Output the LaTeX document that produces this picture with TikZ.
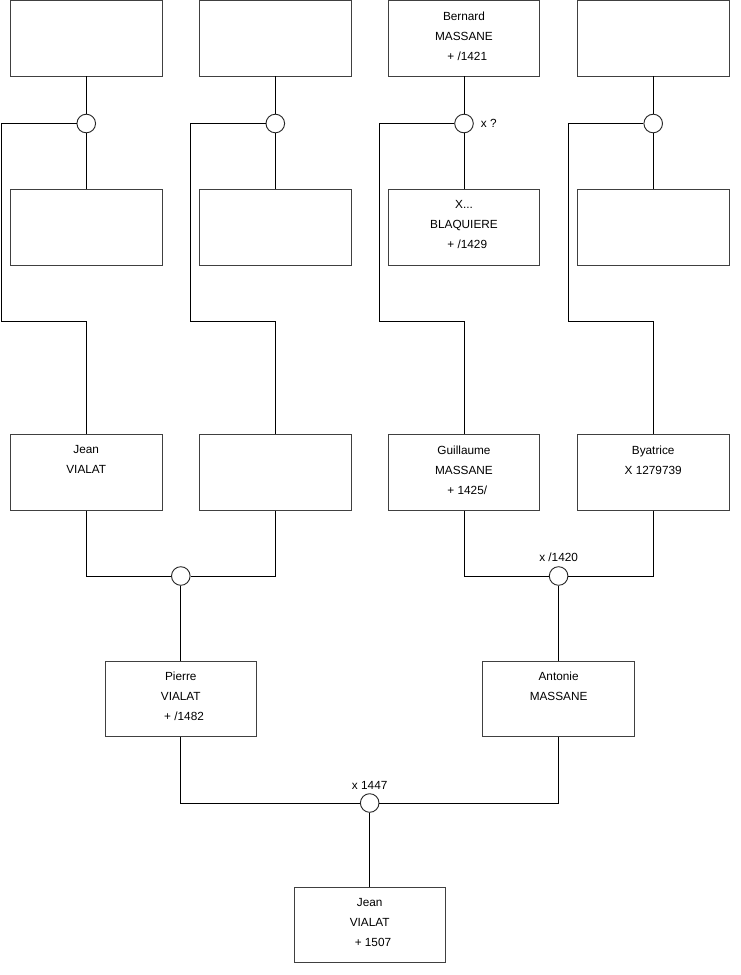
\documentclass[tikz,border=0pt]{standalone}
\usepackage{fontspec}
\setmainfont{Liberation Sans}
\begin{document}
\begin{tikzpicture}[x=1pt,y=-1pt,
  person/.style={draw=black!75, line width=0.9pt, minimum width=151.5pt, minimum height=75.5pt, inner sep=0pt, fill=white},
  ptext/.style={anchor=north, inner sep=0pt, align=center, font=\fontsize{11.8}{20}\selectfont},
  union/.style={circle, draw=black!85, line width=0.9pt, minimum size=18.6pt, inner sep=0pt, fill=white},
  lbl/.style={inner sep=0pt, font=\fontsize{11.8}{14}\selectfont},
  link/.style={draw=black, line width=0.9pt}]
\useasboundingbox (0,0) rectangle (740,975);
\fill[white] (0,0) rectangle (740,975);

% row 1
\node[person] (b1) at (86.25,38.25) {};
\node[person] (b2) at (275.3,38.25) {};
\node[person] (b3) at (464,38.25) {};
\node[person] (b4) at (653.2,38.25) {};
\node[ptext] (t3) at ([yshift=-11.3]b3.north) {Bernard\\MASSANE\\\ \ + /1421};

% unions row 1
\node[union] (u1) at (86.25,123.5) {};
\node[union] (u2) at (275.3,123.5) {};
\node[union] (u3) at (464,123.5) {};
\node[union] (u4) at (653.2,123.5) {};
\node[lbl, anchor=west] (l3) at ([xshift=7]u3.east) {x ?};

% row 2
\node[person] (b5) at (86.25,227.5) {};
\node[person] (b6) at (275.3,227.5) {};
\node[person] (b7) at (464,227.5) {};
\node[person] (b8) at (653.2,227.5) {};
\node[ptext] (t7) at ([yshift=-11.3]b7.north) {X...\\BLAQUIERE\\\ \ + /1429};

% row 3
\node[person] (b9) at (86.25,472.3) {};
\node[person] (b10) at (275.3,472.3) {};
\node[person] (b11) at (464,472.3) {};
\node[person] (b12) at (653.2,472.3) {};
\node[ptext] (t9) at ([yshift=-11.3]b9.north) {Jean\\VIALAT};
\node[ptext] (t11) at ([yshift=-11.3]b11.north) {Guillaume\\MASSANE\\\ \ + 1425/};
\node[ptext] (t12) at ([yshift=-11.3]b12.north) {Byatrice\\X 1279739};

% unions row 3
\node[union] (u5) at (180.8,576) {};
\node[union] (u6) at (558.6,576) {};
\node[lbl, anchor=south] (l6) at ([yshift=4]u6.north) {x /1420};

% row 4
\node[person] (b13) at (180.8,699) {};
\node[person] (b14) at (558.6,699) {};
\node[ptext] (t13) at ([yshift=-11.3]b13.north) {Pierre\\VIALAT\\\ \ + /1482};
\node[ptext] (t14) at ([yshift=-11.3]b14.north) {Antonie\\MASSANE};

% final union
\node[union] (u7) at (369.7,803) {};
\node[lbl, anchor=south] (l7) at ([yshift=4]u7.north) {x 1447};

% row 5
\node[person] (b15) at (369.7,925) {};
\node[ptext] (t15) at ([yshift=-11.3]b15.north) {Jean\\VIALAT\\\ \ + 1507};

% corner coordinates
\coordinate (a1) at (1.5,123.5);   \coordinate (a1b) at (1.5,321.7);   \coordinate (a1c) at (86.25,321.7);
\coordinate (a2) at (190.3,123.5); \coordinate (a2b) at (190.3,321.7); \coordinate (a2c) at (275.3,321.7);
\coordinate (a3) at (379,123.5);   \coordinate (a3b) at (379,321.7);   \coordinate (a3c) at (464,321.7);
\coordinate (a4) at (568.7,123.5); \coordinate (a4b) at (568.7,321.7); \coordinate (a4c) at (653.2,321.7);

% top couples
\path[link] (b1.south) -- (u1.north) (u1.south) -- (b5.north);
\path[link] (b2.south) -- (u2.north) (u2.south) -- (b6.north);
\path[link] (b3.south) -- (u3.north) (u3.south) -- (b7.north);
\path[link] (b4.south) -- (u4.north) (u4.south) -- (b8.north);
% descent lines
\path[link] (u1.west) -- (a1) -- (a1b) -- (a1c) -- (b9.north);
\path[link] (u2.west) -- (a2) -- (a2b) -- (a2c) -- (b10.north);
\path[link] (u3.west) -- (a3) -- (a3b) -- (a3c) -- (b11.north);
\path[link] (u4.west) -- (a4) -- (a4b) -- (a4c) -- (b12.north);
% row 3 couples
\path[link] (b9.south) |- (u5.west);
\path[link] (b10.south) |- (u5.east);
\path[link] (u5.south) -- (b13.north);
\path[link] (b11.south) |- (u6.west);
\path[link] (b12.south) |- (u6.east);
\path[link] (u6.south) -- (b14.north);
% row 4 couple
\path[link] (b13.south) |- (u7.west);
\path[link] (b14.south) |- (u7.east);
\path[link] (u7.south) -- (b15.north);
\end{tikzpicture}
\end{document}
